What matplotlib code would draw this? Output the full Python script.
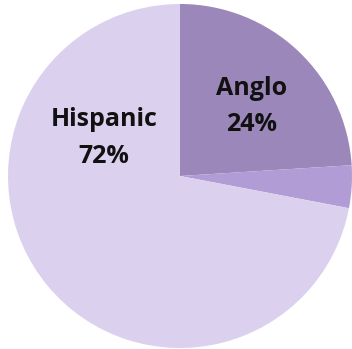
import matplotlib
matplotlib.use("Agg")
import matplotlib.pyplot as plt

labels = ["Anglo", "Other", "Hispanic"]
shares = [24, 4, 72]
colors = ["#9b87b9", "#b19cd6", "#dbd1ee"]
shown = ["Anglo\n24%", None, "Hispanic\n72%"]

W, H = 352, 349
fig = plt.figure(figsize=(W / 100, H / 100), dpi=100)
ax = fig.add_axes([0, 0, 1, 1])

wedges, _ = ax.pie(shares, colors=colors, startangle=90, counterclock=False,
                   radius=1.0, wedgeprops=dict(linewidth=0))

# place the pie: centre at (180, 176) px from top-left, radius 172 px
R = 172.0
cx, cy = 180.0, 176.0
ax.set_xlim(-cx / R, (W - cx) / R)
ax.set_ylim(-(H - cy) / R, cy / R)
ax.set_aspect("equal")
ax.axis("off")

label_pos = {0: (0.418, 0.405), 2: (-0.442, 0.222)}
for i, txt in enumerate(shown):
    if txt is None:
        continue
    x, y = label_pos[i]
    ax.text(x, y, txt, ha="center", va="center", fontsize=18, fontweight="bold",
            family="Open Sans", linespacing=1.6, color="#111111")

fig.savefig("out.png", dpi=100)
